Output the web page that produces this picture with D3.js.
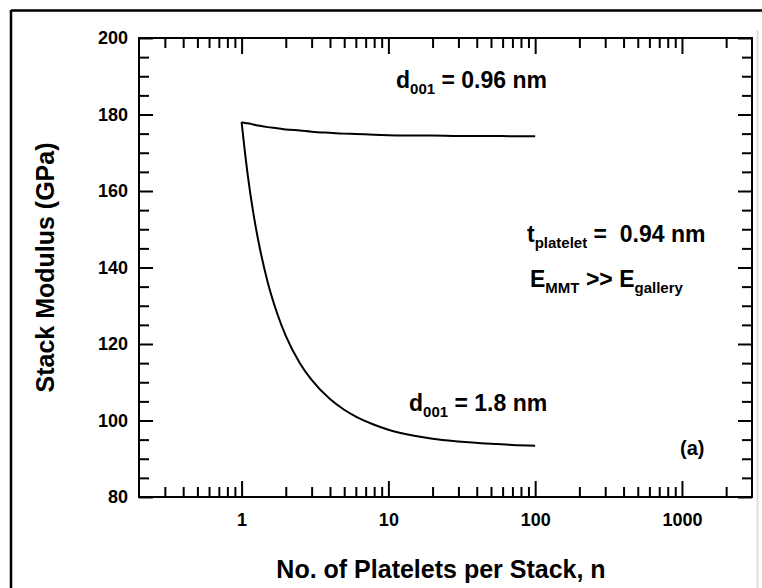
<!DOCTYPE html>
<html>
<head>
<meta charset="utf-8">
<script src="https://cdn.jsdelivr.net/npm/d3@7"></script>
<style>
  body { margin: 0; background: #fff; }
  svg { display: block; font-family: "Liberation Sans", Arial, sans-serif; font-weight: bold; }
</style>
</head>
<body>
<svg id="chart"></svg>
<script>
(function () {

    // n (platelets per stack) and stack modulus
    var nValues = [1, 1.05, 1.1, 1.2, 1.3, 1.5, 1.75, 2, 2.5, 3, 4, 5, 6, 8, 10, 15, 20, 30, 50, 70, 100];
    var modulusD096 = [178, 177.8, 177.7, 177.4, 177.1, 176.7, 176.4, 176.1, 175.8, 175.5, 175.2,
        175.0, 174.9, 174.7, 174.6, 174.5, 174.5, 174.4, 174.4, 174.3, 174.3];
    var modulusD18 = [178, 170.6, 164.3, 154.4, 147.0, 136.4, 127.9, 122.1, 114.9, 110.6, 105.6,
        102.8, 101.0, 98.9, 97.6, 96.0, 95.2, 94.5, 93.9, 93.6, 93.4];

    var xMajorTicks = [1, 10, 100, 1000];
    var xMinorTicks = [0.3, 0.4, 0.5, 0.6, 0.7, 0.8, 0.9, 2, 3, 4, 5, 6, 7, 8, 9,
        20, 30, 40, 50, 60, 70, 80, 90, 200, 300, 400, 500, 600, 700, 800, 900, 2000];
    var yMajorTicks = [80, 100, 120, 140, 160, 180, 200];
    var yMinorTicks = d3.range(85, 200, 5).filter(v => v % 20 !== 0);

    var chartWidth = 762;
    var chartHeight = 588;
    var plotLeft = 139, plotRight = 752, plotTop = 38, plotBottom = 497;

    var svg = d3.select("#chart")
        .attr("width", chartWidth)
        .attr("height", chartHeight);

    // outer picture frame
    svg.append("line").attr("x1", 11).attr("x2", chartWidth).attr("y1", 10.5).attr("y2", 10.5)
        .attr("stroke", "#000").attr("stroke-width", 2.5);
    svg.append("line").attr("x1", 11).attr("x2", 11).attr("y1", 10).attr("y2", chartHeight)
        .attr("stroke", "#000").attr("stroke-width", 2.5);
    svg.append("line").attr("x1", 757.5).attr("x2", 757.5).attr("y1", 30).attr("y2", chartHeight)
        .attr("stroke", "#ddd").attr("stroke-width", 2);

    var xScale = d3.scaleLog().domain([0.2, 3000]).range([plotLeft, plotRight]);
    var yScale = d3.scaleLinear().domain([80, 200]).range([plotBottom, plotTop]);

    function styleAxis(g) {
        g.select(".domain").remove();
        g.selectAll(".tick line").attr("stroke", "#000").attr("stroke-width", 2);
        g.selectAll("text").attr("fill", "#000").style("font-size", "18px")
            .style("font-family", "'Liberation Sans', Arial, sans-serif").style("font-weight", "bold");
    }

    // x axes (bottom with labels, top mirrored)
    svg.append("g").attr("transform", "translate(0," + plotBottom + ")")
        .call(d3.axisBottom(xScale).tickValues(xMajorTicks).tickFormat(d3.format("d"))
            .tickSizeInner(-16).tickSizeOuter(0).tickPadding(16))
        .call(styleAxis);
    svg.append("g").attr("transform", "translate(0," + plotBottom + ")")
        .call(d3.axisBottom(xScale).tickValues(xMinorTicks).tickFormat("")
            .tickSizeInner(-10).tickSizeOuter(0))
        .call(styleAxis);
    svg.append("g").attr("transform", "translate(0," + plotTop + ")")
        .call(d3.axisTop(xScale).tickValues(xMajorTicks).tickFormat("")
            .tickSizeInner(-16).tickSizeOuter(0))
        .call(styleAxis);
    svg.append("g").attr("transform", "translate(0," + plotTop + ")")
        .call(d3.axisTop(xScale).tickValues(xMinorTicks).tickFormat("")
            .tickSizeInner(-10).tickSizeOuter(0))
        .call(styleAxis);

    // y axes
    svg.append("g").attr("transform", "translate(" + plotLeft + ",0)")
        .call(d3.axisLeft(yScale).tickValues(yMajorTicks).tickFormat(d3.format("d"))
            .tickSizeInner(-14).tickSizeOuter(0).tickPadding(11))
        .call(styleAxis);
    svg.append("g").attr("transform", "translate(" + plotLeft + ",0)")
        .call(d3.axisLeft(yScale).tickValues(yMinorTicks).tickFormat("")
            .tickSizeInner(-10).tickSizeOuter(0))
        .call(styleAxis);
    svg.append("g").attr("transform", "translate(" + plotRight + ",0)")
        .call(d3.axisRight(yScale).tickValues(yMajorTicks).tickFormat("")
            .tickSizeInner(-14).tickSizeOuter(0))
        .call(styleAxis);
    svg.append("g").attr("transform", "translate(" + plotRight + ",0)")
        .call(d3.axisRight(yScale).tickValues(yMinorTicks).tickFormat("")
            .tickSizeInner(-10).tickSizeOuter(0))
        .call(styleAxis);

    // plot frame
    svg.append("rect")
        .attr("x", plotLeft).attr("y", plotTop)
        .attr("width", plotRight - plotLeft).attr("height", plotBottom - plotTop)
        .attr("fill", "none").attr("stroke", "#000").attr("stroke-width", 2);

    // curves
    var line = d3.line()
        .x(d => xScale(d[0]))
        .y(d => yScale(d[1]))
        .curve(d3.curveMonotoneX);

    [modulusD096, modulusD18].forEach(function (series) {
        svg.append("path")
            .attr("d", line(nValues.map((n, i) => [n, series[i]])))
            .attr("fill", "none")
            .attr("stroke", "#000")
            .attr("stroke-width", 2)
            .attr("stroke-linejoin", "round");
    });

    // axis titles
    svg.append("text")
        .attr("transform", "translate(45," + ((plotTop + plotBottom) / 2) + ") rotate(-90)")
        .attr("text-anchor", "middle")
        .attr("dy", "0.35em")
        .style("font-size", "25px")
        .text("Stack Modulus (GPa)");
    svg.append("text")
        .attr("x", 441).attr("y", 578)
        .attr("text-anchor", "middle")
        .style("font-size", "25px")
        .text("No. of Platelets per Stack, n");

    // annotations with subscripts
    function annotate(x, y, parts) {
        var t = svg.append("text").attr("x", x).attr("y", y)
            .style("font-size", "23px").style("white-space", "pre");
        parts.forEach(function (p) {
            var span = t.append("tspan").text(p.text);
            if (p.sub) {
                span.attr("dy", 6).style("font-size", "15px");
            } else if (p.after) {
                span.attr("dy", -6);
            }
        });
    }
    annotate(396, 88, [{text: "d"}, {text: "001", sub: true}, {text: " = 0.96 nm", after: true}]);
    annotate(409, 411, [{text: "d"}, {text: "001", sub: true}, {text: " = 1.8 nm", after: true}]);
    annotate(527, 242, [{text: "t"}, {text: "platelet", sub: true}, {text: " =  0.94 nm", after: true}]);
    annotate(530, 287, [{text: "E"}, {text: "MMT", sub: true}, {text: " >> E", after: true},
        {text: "gallery", sub: true}]);

    svg.append("text")
        .attr("x", 680).attr("y", 455)
        .style("font-size", "20px")
        .text("(a)");

})();
</script>
</body>
</html>
